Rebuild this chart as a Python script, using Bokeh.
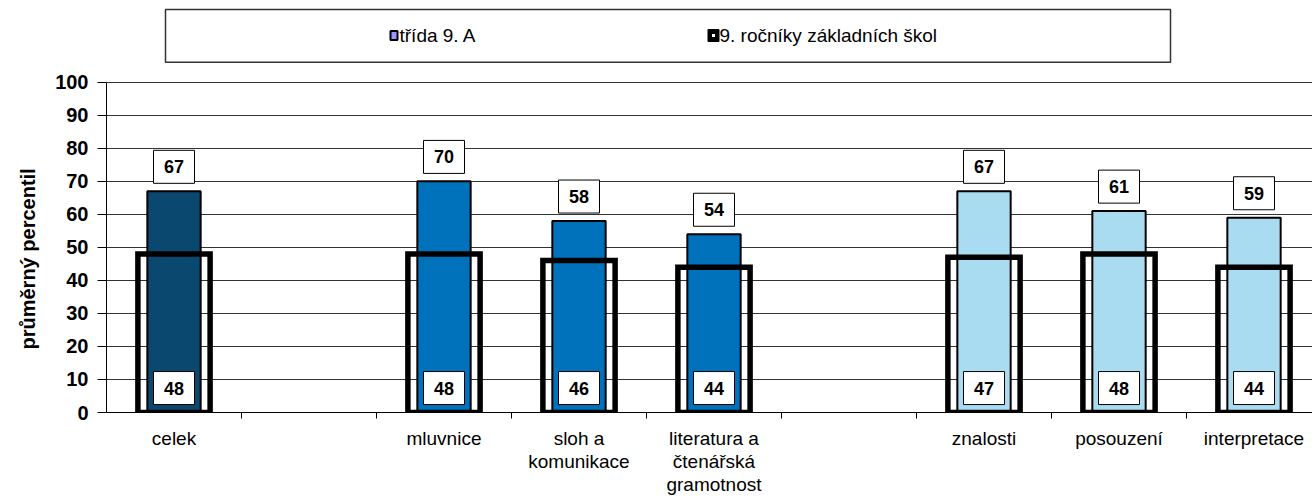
from bokeh.plotting import figure
from bokeh.models import Range1d, FixedTicker, Title
from bokeh.embed import file_html
from bokeh.resources import INLINE
from bokeh.core.properties import value

# ---------------- data ----------------
categories = ["celek", "", "mluvnice", "sloh a\nkomunikace",
              "literatura a\nčtenářská\ngramotnost", "",
              "znalosti", "posouzení", "interpretace"]
trida = [67, None, 70, 58, 54, None, 67, 61, 59]
rocniky = [48, None, 48, 46, 44, None, 47, 48, 44]
series_names = ["třída  9. A", "9. ročníky základních škol"]
y_ticks = [0, 10, 20, 30, 40, 50, 60, 70, 80, 90, 100]
y_title = "průměrný percentil"

# ---------------- style / geometry ----------------
bar_colors = ["#0B4870", None, "#0072BC", "#0072BC", "#0072BC", None,
              "#A9DCF1", "#A9DCF1", "#A9DCF1"]
FONT = "Liberation Sans"
W, H = 1312, 497
FRAME_LEFT, FRAME_BOTTOM, Y100 = 106.0, 413.0, 82.0
BORDER_L = int(FRAME_LEFT)
BORDER_B = int(H - FRAME_BOTTOM)
FRAME_W = W - BORDER_L
SLOT_PX = 135.0
PX = (FRAME_BOTTOM - Y100) / 100.0      # pixels per value unit
Y_TOP = 100 + Y100 / PX                 # room above 100 for the legend box
X_END = FRAME_W / SLOT_PX


def sx(px):  # page-pixel x -> data x
    return (px - FRAME_LEFT) / SLOT_PX


def sy(py):  # page-pixel y -> data y
    return 100 + (Y100 - py) / PX


idx = [i for i, v in enumerate(trida) if v is not None]
xs = [i + 0.5 for i in idx]
t_vals = [trida[i] for i in idx]
r_vals = [rocniky[i] for i in idx]
cols = [bar_colors[i] for i in idx]

p = figure(width=W, height=H, output_backend="svg", toolbar_location=None,
           x_range=Range1d(0, X_END), y_range=Range1d(0, Y_TOP),
           min_border_left=BORDER_L, min_border_right=0,
           min_border_top=0, min_border_bottom=BORDER_B)
p.outline_line_color = None
p.xgrid.visible = False
p.ygrid.ticker = FixedTicker(ticks=y_ticks)
p.ygrid.grid_line_color = "#333333"
p.ygrid.grid_line_width = 1

# ---- legend box (drawn inside the frame, above the 100 line) ----
p.quad(left=[sx(165)], right=[sx(1170)], top=[sy(9)], bottom=[sy(62)],
       fill_color=None, line_color="#333333", line_width=1.5)
p.rect(x=[sx(393.5)], y=[sy(35)], width=7, height=9, width_units="screen",
       height_units="screen", fill_color="#9999FF", line_color="black", line_width=2)
p.rect(x=[sx(713)], y=[sy(35)], width=10, height=11, width_units="screen",
       height_units="screen", fill_color="black", line_color="black",
       line_width=2, line_join="round")
p.rect(x=[sx(713)], y=[sy(35)], width=3, height=3, width_units="screen",
       height_units="screen", fill_color="white", line_color=None)
p.text(x=[sx(399), sx(719)], y=[sy(35), sy(35)], text=series_names,
       text_font=value(FONT), text_font_size="19px", text_baseline="middle",
       text_align="left", text_color="black")

# ---- bars: class ----
p.vbar(x=xs, top=t_vals, bottom=0, width=0.395, fill_color=cols,
       line_color="black", line_width=2)
# ---- outline bars: all schools ----
p.vbar(x=xs, top=r_vals, bottom=0, width=0.535, fill_color=None,
       line_color="black", line_width=5.5, line_join="miter")

# ---- value labels in boxes ----
off = 24.5 / PX
top_y = [v + off for v in t_vals]
low_y = [off] * len(xs)
for ys, vals in ((top_y, t_vals), (low_y, r_vals)):
    p.rect(x=xs, y=ys, width=41, height=33, width_units="screen",
           height_units="screen", fill_color="white", line_color="black",
           line_width=1)
    p.text(x=xs, y=ys, text=[str(v) for v in vals], text_font=value(FONT),
           text_font_size="18px", text_font_style="bold", text_align="center",
           text_baseline="middle", text_color="black")

# ---- y axis ----
p.yaxis.bounds = (0, 100)
p.yaxis.ticker = FixedTicker(ticks=y_ticks)
p.yaxis.major_label_text_font = FONT
p.yaxis.major_label_text_font_size = "20px"
p.yaxis.major_label_text_font_style = "bold"
p.yaxis.major_label_text_color = "black"
p.yaxis.major_tick_out = 9
p.yaxis.major_tick_in = 0
p.yaxis.minor_tick_line_color = None
p.yaxis.major_label_standoff = 9
p.yaxis.axis_line_color = "black"
p.yaxis.major_tick_line_color = "black"

# axis title as a left-side title, placed beside the 0-100 span
p.add_layout(Title(text=y_title, align="left", offset=63, standoff=27,
                   text_font=FONT, text_font_size="20px", text_font_style="bold",
                   text_color="black"), "left")

# ---- x axis ----
label_ticks = [i + 0.5 for i, c in enumerate(categories) if c]
p.xaxis.ticker = FixedTicker(ticks=label_ticks,
                             minor_ticks=list(range(1, len(categories) + 1)))
p.xaxis.major_label_overrides = {i + 0.5: c for i, c in enumerate(categories) if c}
p.xaxis.major_tick_line_color = None
p.xaxis.major_tick_out = 0
p.xaxis.major_tick_in = 0
p.xaxis.minor_tick_out = 6
p.xaxis.minor_tick_in = 0
p.xaxis.minor_tick_line_color = "black"
p.xaxis.axis_line_color = "black"
p.xaxis.major_label_standoff = 9
p.xaxis.major_label_text_font = FONT
p.xaxis.major_label_text_font_size = "19px"
p.xaxis.major_label_text_line_height = 1.1
p.xaxis.major_label_text_font_style = "normal"
p.xaxis.major_label_text_color = "black"

open("out.html", "w").write(file_html(p, INLINE))
